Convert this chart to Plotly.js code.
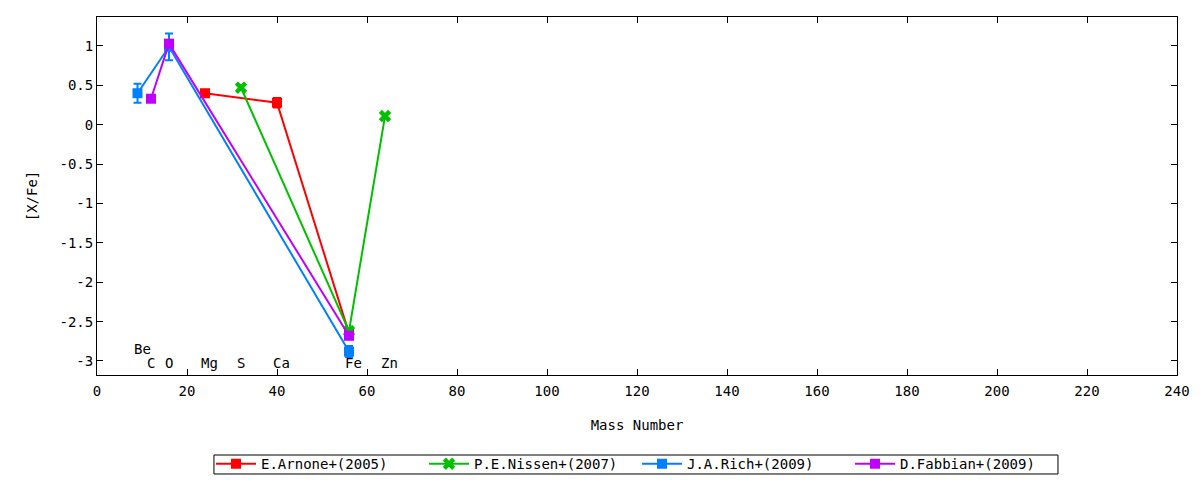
<!DOCTYPE html>
<html>
<head>
<meta charset="utf-8">
<script src="https://cdn.plot.ly/plotly-3.0.1.min.js"></script>
<style>html,body{margin:0;padding:0;background:#fff}#chart{width:1200px;height:480px}</style>
</head>
<body>
<div id="chart"></div>
<script>
// Series data: mass number, [X/Fe], error
const arnoneName = "E.Arnone+(2005)";
const arnoneX = [24, 40, 56];
const arnoneY = [0.40, 0.28, -2.65];
const arnoneErr = [0.03, 0.06, 0.03];

const nissenName = "P.E.Nissen+(2007)";
const nissenX = [32, 56, 64];
const nissenY = [0.47, -2.62, 0.11];
const nissenErr = [0.03, 0.03, 0.03];

const richName = "J.A.Rich+(2009)";
const richX = [9, 16, 56];
const richY = [0.40, 0.99, -2.88];
const richErr = [0.12, 0.17, 0.07];

const fabbianName = "D.Fabbian+(2009)";
const fabbianX = [12, 16, 56];
const fabbianY = [0.33, 1.03, -2.68];
const fabbianErr = [0.02, 0.04, 0.02];

// Element labels
const elemNames = ["Be", "C", "O", "Mg", "S", "Ca", "Fe", "Zn"];
const elemX = [10, 12, 16, 25, 32, 41, 57, 65];
const elemY = [-2.85, -3.03, -3.03, -3.03, -3.03, -3.03, -3.03, -3.03];

// Tick labels
const xTickVals = [0, 20, 40, 60, 80, 100, 120, 140, 160, 180, 200, 220, 240];
const yTickVals = [1, 0.5, 0, -0.5, -1, -1.5, -2, -2.5, -3];
const yTickText = ["1", "0.5", "0", "-0.5", "-1", "-1.5", "-2", "-2.5", "-3"];

const FONT = "DejaVu Sans Mono, monospace";

function mk(name, x, y, err, color, symbol) {
  return {
    type: "scatter", mode: "lines+markers", name: name,
    x: x, y: y,
    line: {color: color, width: 2},
    marker: {color: color, symbol: symbol, size: symbol === "x" ? 11 : 10, line: {width: 0}},
    error_y: {type: "data", array: err, visible: true, color: color, thickness: 2, width: 4}
  };
}

const traces = [
  mk(arnoneName, arnoneX, arnoneY, arnoneErr, "#ff0000", "square"),
  mk(nissenName, nissenX, nissenY, nissenErr, "#00c000", "x"),
  mk(richName, richX, richY, richErr, "#0080ff", "square"),
  mk(fabbianName, fabbianX, fabbianY, fabbianErr, "#c000ff", "square")
];

const annotations = elemNames.map((t, i) => ({
  x: elemX[i], y: elemY[i], xref: "x", yref: "y", text: t, showarrow: false,
  xanchor: "center", yanchor: "middle",
  font: {family: FONT, size: 14, color: "#000"}
}));

const layout = {
  width: 1200, height: 480,
  margin: {l: 97, r: 23, t: 17, b: 105, autoexpand: false},
  paper_bgcolor: "#fff", plot_bgcolor: "#fff",
  font: {family: FONT, size: 14, color: "#000"},
  showlegend: true,
  legend: {
    orientation: "h", x: 0.5, xanchor: "center",
    yref: "container", y: 0.033, yanchor: "middle",
    borderwidth: 0, bgcolor: "rgba(0,0,0,0)",
    font: {family: FONT, size: 14, color: "#000"},
    itemwidth: 40, entrywidth: 158, entrywidthmode: "pixels", traceorder: "normal",
    tracegroupgap: 0
  },
  shapes: [{
    type: "rect", xref: "paper", yref: "paper",
    x0: 0.1083, x1: 0.8898, y0: -0.2765, y1: -0.2235,
    line: {color: "#000", width: 1}, fillcolor: "rgba(0,0,0,0)"
  }],
  xaxis: {
    range: [0, 240], tickvals: xTickVals,
    ticks: "inside", ticklen: 6, tickcolor: "#000", tickwidth: 1,
    showline: true, linecolor: "#000", linewidth: 1, mirror: "ticks",
    showgrid: false, zeroline: false, ticklabelstandoff: 3,
    title: {text: "Mass Number", font: {family: FONT, size: 14}, standoff: 22},
    tickfont: {family: FONT, size: 14}
  },
  yaxis: {
    range: [-3.178, 1.368], tickvals: yTickVals, ticktext: yTickText,
    ticks: "inside", ticklen: 6, tickcolor: "#000", tickwidth: 1,
    showline: true, linecolor: "#000", linewidth: 1, mirror: "ticks",
    showgrid: false, zeroline: false,
    title: {text: "[X/Fe]", font: {family: FONT, size: 14}, standoff: 18},
    tickfont: {family: FONT, size: 14}
  },
  annotations: annotations
};

Plotly.newPlot("chart", traces, layout, {displayModeBar: false, staticPlot: true});
</script>
</body>
</html>
